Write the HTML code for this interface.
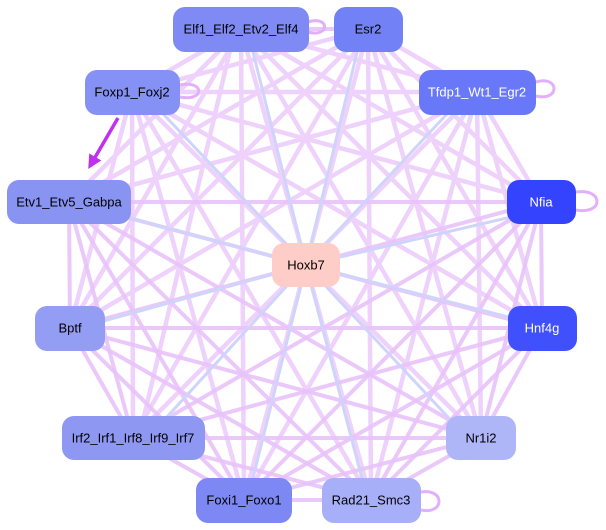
<!DOCTYPE html>
<html><head><meta charset="utf-8"><style>
html,body{margin:0;padding:0;background:#fff;}
svg{display:block;}
text{font-family:"Liberation Sans",sans-serif;font-size:13px;text-anchor:middle;dominant-baseline:central;}
</style></head><body>
<svg width="606" height="530" viewBox="0 0 606 530" xmlns="http://www.w3.org/2000/svg">
<defs>
<marker id="b" markerWidth="4" markerHeight="4" refX="3" refY="2" orient="auto"><path d="M0,0L4,2L0,4z" fill="#c030f0"/></marker>
</defs>
<g stroke="#eed2fc" stroke-width="4.5" fill="none" stroke-linecap="round">
<line x1="241" y1="29" x2="132" y2="92"/><line x1="241" y1="29" x2="477" y2="92"/><line x1="241" y1="29" x2="69" y2="202"/><line x1="241" y1="29" x2="541" y2="202"/><line x1="241" y1="29" x2="70" y2="328"/><line x1="241" y1="29" x2="542" y2="328"/><line x1="235" y1="29" x2="139" y2="438"/><line x1="241" y1="29" x2="481" y2="438"/><line x1="241" y1="29" x2="244" y2="500"/><line x1="241" y1="29" x2="371" y2="500"/>
<line x1="368" y1="29" x2="132" y2="92"/><line x1="368" y1="29" x2="477" y2="92"/><line x1="368" y1="29" x2="69" y2="202"/><line x1="368" y1="29" x2="541" y2="202"/><line x1="368" y1="29" x2="70" y2="328"/><line x1="368" y1="29" x2="542" y2="328"/><line x1="368" y1="29" x2="133" y2="438"/><line x1="368" y1="29" x2="481" y2="438"/><line x1="368" y1="29" x2="244" y2="500"/><line x1="368" y1="29" x2="371" y2="500"/>
<line x1="132" y1="92" x2="477" y2="92"/><line x1="132" y1="92" x2="541" y2="202"/><line x1="132" y1="92" x2="70" y2="328"/><line x1="132" y1="92" x2="542" y2="328"/><line x1="132" y1="92" x2="133" y2="438"/><line x1="132" y1="92" x2="481" y2="438"/><line x1="132" y1="92" x2="244" y2="500"/><line x1="132" y1="92" x2="371" y2="500"/>
<line x1="477" y1="92" x2="69" y2="202"/><line x1="477" y1="92" x2="541" y2="202"/><line x1="477" y1="92" x2="70" y2="328"/><line x1="477" y1="92" x2="542" y2="328"/><line x1="477" y1="92" x2="133" y2="438"/><line x1="477" y1="92" x2="481" y2="438"/><line x1="477" y1="92" x2="244" y2="500"/><line x1="477" y1="92" x2="371" y2="500"/>
</g>
<g stroke="#e8c2fa" stroke-width="4" fill="none" stroke-linecap="round" stroke-opacity="0.9">
<line x1="241" y1="29" x2="368" y2="29"/><line x1="69" y1="202" x2="541" y2="202"/><line x1="69" y1="202" x2="70" y2="328"/><line x1="69" y1="202" x2="542" y2="328"/><line x1="69" y1="202" x2="133" y2="438"/><line x1="69" y1="202" x2="481" y2="438"/><line x1="69" y1="202" x2="244" y2="500"/><line x1="69" y1="202" x2="371" y2="500"/>
<line x1="541" y1="202" x2="70" y2="328"/><line x1="541" y1="202" x2="542" y2="328"/><line x1="541" y1="202" x2="133" y2="438"/><line x1="541" y1="202" x2="481" y2="438"/><line x1="541" y1="202" x2="244" y2="500"/><line x1="541" y1="202" x2="371" y2="500"/>
<line x1="70" y1="328" x2="542" y2="328"/><line x1="70" y1="328" x2="133" y2="438"/><line x1="70" y1="328" x2="481" y2="438"/><line x1="70" y1="328" x2="244" y2="500"/><line x1="70" y1="328" x2="371" y2="500"/>
<line x1="542" y1="328" x2="133" y2="438"/><line x1="542" y1="328" x2="481" y2="438"/><line x1="542" y1="328" x2="244" y2="500"/><line x1="542" y1="328" x2="371" y2="500"/>
<line x1="133" y1="438" x2="481" y2="438"/><line x1="133" y1="438" x2="244" y2="500"/><line x1="133" y1="438" x2="371" y2="500"/>
<line x1="481" y1="438" x2="244" y2="500"/><line x1="481" y1="438" x2="371" y2="500"/><line x1="244" y1="500" x2="371" y2="500"/>
</g>
<g stroke="#cfd4fb" stroke-width="3" fill="none">
<line x1="250" y1="40" x2="306" y2="265"/><line x1="360" y1="40" x2="306" y2="265"/><line x1="150" y1="100" x2="306" y2="265"/><line x1="460" y1="100" x2="306" y2="265"/><line x1="100" y1="210" x2="306" y2="265"/><line x1="541" y1="210" x2="306" y2="265"/><line x1="100" y1="322" x2="306" y2="265"/><line x1="520" y1="320" x2="306" y2="265"/><line x1="155" y1="430" x2="306" y2="265"/><line x1="460" y1="430" x2="306" y2="265"/><line x1="250" y1="490" x2="306" y2="265"/><line x1="365" y1="490" x2="306" y2="265"/>
</g>
<g stroke="#e2b0fa" stroke-width="3" fill="none">
<path d="M308,22 C330,15 330,38 308,32"/>
<path d="M536,82 C560,75 560,102 536,96"/>
<path d="M576,192 C604,188 604,215 576,210"/>
<path d="M421,492 C445,488 445,515 421,510"/>
<path d="M180,85 C205,80 205,102 180,97"/>
</g>
<line x1="118" y1="118" x2="90" y2="166" stroke="#c030f0" stroke-width="3.5" marker-end="url(#b)"/>
<g>
<rect x="173" y="7" width="136" height="45" rx="12" fill="#7f8af4"/><text x="241" y="29">Elf1_Elf2_Etv2_Elf4</text>
<rect x="334" y="7" width="69" height="45" rx="12" fill="#7282f6"/><text x="368" y="29">Esr2</text>
<rect x="85" y="70" width="95" height="45" rx="12" fill="#8591f4"/><text x="132" y="92">Foxp1_Foxj2</text>
<rect x="419" y="70" width="117" height="45" rx="12" fill="#6878f8"/><text x="477" y="92" fill="#fff">Tfdp1_Wt1_Egr2</text>
<rect x="7" y="180" width="124" height="44" rx="12" fill="#8893f2"/><text x="69" y="202">Etv1_Etv5_Gabpa</text>
<rect x="507" y="180" width="69" height="44" rx="12" fill="#3444fe"/><text x="541" y="202" fill="#fff">Nfia</text>
<rect x="272" y="243" width="68" height="44" rx="12" fill="#ffcdc8"/><text x="306" y="265">Hoxb7</text>
<rect x="35" y="306" width="70" height="45" rx="12" fill="#949df4"/><text x="70" y="328">Bptf</text>
<rect x="508" y="306" width="69" height="45" rx="12" fill="#4050fd"/><text x="542" y="328" fill="#fff">Hnf4g</text>
<rect x="62" y="416" width="143" height="44" rx="12" fill="#8e98f2"/><text x="133" y="438">Irf2_Irf1_Irf8_Irf9_Irf7</text>
<rect x="446" y="416" width="70" height="44" rx="12" fill="#afb6f8"/><text x="481" y="438">Nr1i2</text>
<rect x="196" y="478" width="96" height="45" rx="12" fill="#7d88f4"/><text x="244" y="500">Foxi1_Foxo1</text>
<rect x="322" y="478" width="99" height="45" rx="12" fill="#a7aff8"/><text x="371" y="500">Rad21_Smc3</text>
</g>
</svg>
</body></html>
